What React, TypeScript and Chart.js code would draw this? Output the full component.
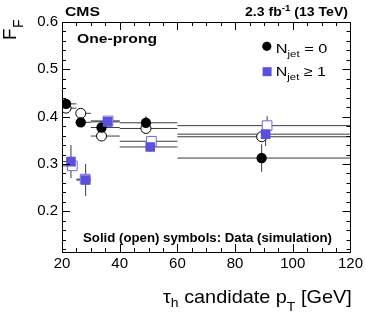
import React, { useEffect, useRef } from "react";
import { Chart, registerables } from "chart.js";

Chart.register(...registerables);

// ---- data ----
const binLo = [20, 25, 30, 40, 60];
const binHi = [25, 30, 40, 60, 120];

const data0X = [21.4, 26.5, 33.7, 49.1, 89.2];
const data0Y = [0.427, 0.388, 0.377, 0.387, 0.3125];
const data0Err = [0.008, 0.006, 0.008, 0.014, 0.029];

const sim0X = [21.4, 26.5, 33.7, 49.1, 89.2];
const sim0Y = [0.418, 0.407, 0.359, 0.375, 0.3575];
const sim0Err = [0.005, 0.005, 0.006, 0.006, 0.01];

const data1X = [23.1, 28.2, 35.8, 50.6, 90.6];
const data1Y = [0.305, 0.266, 0.389, 0.336, 0.363];
const data1Err = [0.035, 0.034, 0.008, 0.01, 0.025];

const sim1X = [23.6, 28.0, 36.0, 51.0, 91.1];
const sim1Y = [0.296, 0.268, 0.391, 0.348, 0.381];
const sim1Err = [0.01, 0.01, 0.006, 0.008, 0.02];

const xTicks = [20, 40, 60, 80, 100, 120];
const yTicks = [0.2, 0.3, 0.4, 0.5, 0.6];

const FONT = "'Liberation Sans', Arial, Helvetica, sans-serif";
const BLUE = "rgb(90,80,222)";
const BLUE_OPEN = "rgb(110,100,235)";
const BAR = "#3a3a3a";

type Part = { t: string; size: number; bold?: boolean; dy?: number };

function drawRich(ctx: CanvasRenderingContext2D, parts: Part[], left: number, right: number, baseline: number) {
  ctx.save();
  let total = 0;
  const widths = parts.map((p) => {
    ctx.font = `${p.bold ? "bold " : ""}${p.size}px ${FONT}`;
    const w = ctx.measureText(p.t).width;
    total += w;
    return w;
  });
  const sx = (right - left) / total;
  ctx.translate(left, baseline);
  ctx.scale(sx, 1);
  ctx.fillStyle = "#000";
  ctx.textBaseline = "alphabetic";
  ctx.textAlign = "left";
  let x = 0;
  parts.forEach((p, i) => {
    ctx.font = `${p.bold ? "bold " : ""}${p.size}px ${FONT}`;
    ctx.fillText(p.t, x, p.dy || 0);
    x += widths[i];
  });
  ctx.restore();
}

const errorBars = {
  id: "errorBars",
  beforeDatasetsDraw(chart: any) {
    const { ctx, scales } = chart;
    const xs = scales.x;
    const ys = scales.y;
    const series = [
      [sim0X, sim0Y, sim0Err],
      [sim1X, sim1Y, sim1Err],
      [data0X, data0Y, data0Err],
      [data1X, data1Y, data1Err],
    ];
    ctx.save();
    ctx.strokeStyle = BAR;
    ctx.lineWidth = 1;
    series.forEach(([X, Y, E]) => {
      for (let i = 0; i < X.length; i++) {
        const py = ys.getPixelForValue(Y[i]);
        const px = xs.getPixelForValue(X[i]);
        ctx.beginPath();
        ctx.moveTo(xs.getPixelForValue(binLo[i]), py);
        ctx.lineTo(xs.getPixelForValue(binHi[i]), py);
        ctx.moveTo(px, ys.getPixelForValue(Y[i] - E[i]));
        ctx.lineTo(px, ys.getPixelForValue(Y[i] + E[i]));
        ctx.stroke();
      }
    });
    ctx.restore();
  },
};

const frameAndText = {
  id: "frameAndText",
  afterDraw(chart: any) {
    const { ctx, chartArea: a, scales } = chart;
    const xs = scales.x;
    const ys = scales.y;
    ctx.save();
    ctx.strokeStyle = "#000";
    ctx.lineWidth = 1;
    ctx.strokeRect(Math.round(a.left) + 0.5, Math.round(a.top) + 0.5, Math.round(a.right - a.left), Math.round(a.bottom - a.top));
    ctx.beginPath();
    // x ticks (bottom & top)
    for (let v = 20; v <= 120; v += 5) {
      const px = Math.round(xs.getPixelForValue(v)) + 0.5;
      const len = v % 20 === 0 ? 8 : 4;
      ctx.moveTo(px, a.bottom);
      ctx.lineTo(px, a.bottom - len);
      ctx.moveTo(px, a.top);
      ctx.lineTo(px, a.top + len);
    }
    // y ticks (left & right)
    for (let k = 12; k <= 60; k += 2) {
      const v = k / 100;
      const py = Math.round(ys.getPixelForValue(v)) + 0.5;
      const len = k % 10 === 0 ? 8 : 4;
      ctx.moveTo(a.left, py);
      ctx.lineTo(a.left + len, py);
      ctx.moveTo(a.right, py);
      ctx.lineTo(a.right - len, py);
    }
    ctx.stroke();

    // legend markers
    ctx.fillStyle = "#000";
    ctx.beginPath();
    ctx.arc(266.8, 46.3, 4.6, 0, Math.PI * 2);
    ctx.fill();
    ctx.fillStyle = BLUE;
    ctx.fillRect(262.6, 67.2, 9, 9);
    ctx.restore();

    drawRich(ctx, [{ t: "CMS", size: 13, bold: true }], 65, 100, 16);
    drawRich(
      ctx,
      [
        { t: "2.3 fb", size: 13, bold: true },
        { t: "-1", size: 9, bold: true, dy: -5 },
        { t: " (13 TeV)", size: 13, bold: true },
      ],
      245,
      348,
      16
    );
    drawRich(ctx, [{ t: "One-prong", size: 13, bold: true }], 77, 157, 43);
    drawRich(
      ctx,
      [
        { t: "N", size: 13.5 },
        { t: "jet", size: 9.5, dy: 4 },
        { t: " = 0", size: 13.5 },
      ],
      275.7,
      327.3,
      52.7
    );
    drawRich(
      ctx,
      [
        { t: "N", size: 13.5 },
        { t: "jet", size: 9.5, dy: 4 },
        { t: " \u2265 1", size: 13.5 },
      ],
      275.7,
      326,
      76
    );
    drawRich(ctx, [{ t: "Solid (open) symbols: Data (simulation)", size: 12, bold: true }], 83, 332, 242);
    drawRich(
      ctx,
      [
        { t: "\u03c4", size: 18.5 },
        { t: "h", size: 13, dy: 4.5 },
        { t: " candidate p", size: 18.5 },
        { t: "T", size: 13, dy: 8 },
        { t: " [GeV]", size: 18.5 },
      ],
      163,
      351.7,
      302.7
    );
    // y title, rotated
    ctx.save();
    ctx.translate(16, 40);
    ctx.rotate(-Math.PI / 2);
    ctx.fillStyle = "#000";
    ctx.font = `19px ${FONT}`;
    ctx.fillText("F", 0, 0);
    const w = ctx.measureText("F").width;
    ctx.font = `14px ${FONT}`;
    ctx.fillText("F", w + 0.5, 7);
    ctx.restore();
  },
};

export default function App() {
  const ref = useRef<HTMLCanvasElement | null>(null);
  useEffect(() => {
    document.body.style.margin = "0";
    const mk = (X: number[], Y: number[]) => X.map((x, i) => ({ x, y: Y[i] }));
    // Chart.js paints dataset 0 last (on top): solid symbols first in the list.
    const chart = new Chart(ref.current as HTMLCanvasElement, {
      type: "scatter",
      data: {
        datasets: [
          {
            data: mk(data1X, data1Y),
            pointStyle: "rect",
            pointRadius: 6.8,
            backgroundColor: BLUE,
            borderColor: BLUE,
            borderWidth: 0,
          },
          {
            data: mk(data0X, data0Y),
            pointStyle: "circle",
            pointRadius: 5.2,
            backgroundColor: "#000",
            borderColor: "#000",
            borderWidth: 0,
          },
          {
            data: mk(sim1X, sim1Y),
            pointStyle: "rect",
            pointRadius: 6.8,
            backgroundColor: "#fff",
            borderColor: BLUE_OPEN,
            borderWidth: 1,
          },
          {
            data: mk(sim0X, sim0Y),
            pointStyle: "circle",
            pointRadius: 5,
            backgroundColor: "#fff",
            borderColor: "#000",
            borderWidth: 1,
          },
        ],
      },
      options: {
        responsive: false,
        animation: false,
        events: [],
        layout: { padding: { top: 22, right: 15, left: 0, bottom: 0 } },
        plugins: { legend: { display: false }, tooltip: { enabled: false } },
        scales: {
          x: {
            type: "linear",
            min: 20,
            max: 120,
            grid: { display: false, drawTicks: false },
            border: { display: false },
            afterBuildTicks: (s: any) => {
              s.ticks = xTicks.map((v) => ({ value: v }));
            },
            afterFit: (s: any) => {
              s.height = 60;
            },
            ticks: {
              padding: 3,
              color: "#000",
              maxRotation: 0,
              autoSkip: false,
              font: { family: FONT, size: 15 },
              callback: (v: any) => String(v),
            },
          },
          y: {
            type: "linear",
            min: 0.114,
            max: 0.6,
            grid: { display: false, drawTicks: false },
            border: { display: false },
            afterBuildTicks: (s: any) => {
              s.ticks = yTicks.map((v) => ({ value: v }));
            },
            afterFit: (s: any) => {
              s.width = 62;
            },
            ticks: {
              padding: 4,
              color: "#000",
              autoSkip: false,
              font: { family: FONT, size: 15 },
              callback: (v: any) => Number(v).toFixed(1),
            },
          },
        },
      },
      plugins: [errorBars, frameAndText],
    });
    return () => chart.destroy();
  }, []);
  return <canvas ref={ref} width={366} height={312} style={{ display: "block" }} />;
}
